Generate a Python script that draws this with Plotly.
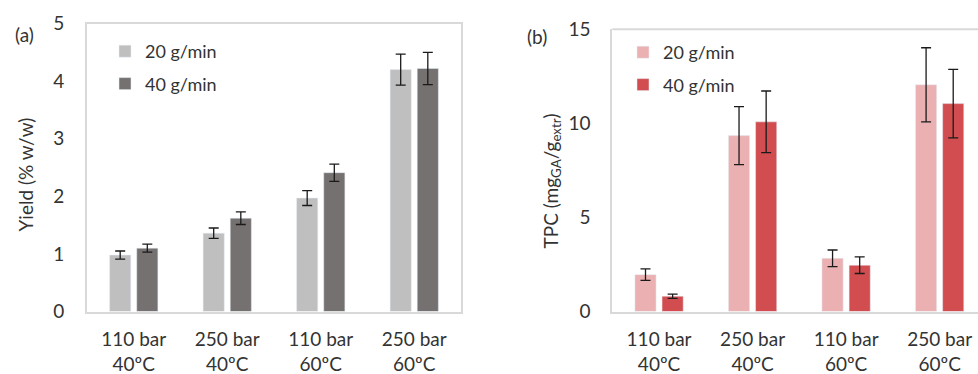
import plotly.graph_objects as go

categories = ["110 bar<br>40ºC", "250 bar<br>40ºC", "110 bar<br>60ºC", "250 bar<br>60ºC"]
series_names = ["20 g/min", "40 g/min"]

yield_20 = [0.98, 1.36, 1.97, 4.20]
yield_20_err = [0.07, 0.09, 0.13, 0.27]
yield_40 = [1.10, 1.62, 2.41, 4.22]
yield_40_err = [0.07, 0.11, 0.15, 0.28]

tpc_20 = [1.96, 9.35, 2.83, 12.05]
tpc_20_err = [0.31, 1.54, 0.44, 1.97]
tpc_40 = [0.81, 10.08, 2.46, 11.05]
tpc_40_err = [0.11, 1.64, 0.44, 1.82]

W, H = 978, 374
FONT = "Lato"
TXT = "#333333"
FRAME = "#D9D9D9"
FS = 19

def px(x):
    return x / W

def py(y):
    return 1 - y / H

err_style = dict(type="data", color="#1a1a1a", thickness=1.3, width=5, visible=True)

fig = go.Figure()
fig.add_trace(go.Bar(x=categories, y=yield_20, name=series_names[0], marker_color="#BFBFBF",
                     error_y=dict(array=yield_20_err, **err_style), xaxis="x", yaxis="y",
                     legend="legend", legendgroup="a1"))
fig.add_trace(go.Bar(x=categories, y=yield_40, name=series_names[1], marker_color="#767171",
                     error_y=dict(array=yield_40_err, **err_style), xaxis="x", yaxis="y",
                     legend="legend", legendgroup="a2"))
fig.add_trace(go.Bar(x=categories, y=tpc_20, name=series_names[0], marker_color="#EBB1B2",
                     error_y=dict(array=tpc_20_err, **err_style), xaxis="x2", yaxis="y2",
                     legend="legend2", legendgroup="b1"))
fig.add_trace(go.Bar(x=categories, y=tpc_40, name=series_names[1], marker_color="#D14D4F",
                     error_y=dict(array=tpc_40_err, **err_style), xaxis="x2", yaxis="y2",
                     legend="legend2", legendgroup="b2"))

tickfont = dict(family=FONT, size=FS, color=TXT)
legfont = dict(family=FONT, size=18, color=TXT)

fig.update_layout(
    width=W, height=H,
    margin=dict(l=0, r=0, t=0, b=0, pad=0, autoexpand=False),
    paper_bgcolor="white", plot_bgcolor="white",
    barmode="group", bargap=0.42, bargroupgap=0.22,
    font=dict(family=FONT, size=FS, color=TXT),
    xaxis=dict(domain=[px(87), px(461)], range=[-0.5, 3.5], type="category",
               showline=True, linecolor=FRAME, linewidth=2, mirror=True, automargin=False,
               ticks="", tickfont=tickfont, ticklabelstandoff=10, showgrid=False),
    yaxis=dict(domain=[py(311.5), py(23.5)], range=[0, 5], dtick=1, automargin=False,
               showline=True, linecolor=FRAME, linewidth=2, mirror=True,
               ticks="", tickfont=tickfont, ticklabelstandoff=17, showgrid=False,
               zeroline=False),
    xaxis2=dict(domain=[px(612.3), 1.0], range=[-0.5, 3.41], type="category",
                anchor="y2", showline=True, linecolor=FRAME, linewidth=2, automargin=False,
                ticks="", tickfont=tickfont, ticklabelstandoff=10, showgrid=False),
    yaxis2=dict(domain=[py(311.5), py(29.3)], range=[0, 15], dtick=5, anchor="x2",
                showline=True, linecolor=FRAME, linewidth=2, automargin=False,
                ticks="", tickfont=tickfont, ticklabelstandoff=16, showgrid=False,
                zeroline=False),
    legend=dict(x=px(105), y=py(33), xanchor="left", yanchor="top", font=legfont,
                bgcolor="rgba(0,0,0,0)", tracegroupgap=6, itemwidth=30),
    legend2=dict(x=px(623), y=py(34), xanchor="left", yanchor="top", font=legfont,
                 bgcolor="rgba(0,0,0,0)", tracegroupgap=6, itemwidth=30),
    showlegend=True,
)

fig.add_shape(type="line", xref="x2 domain", yref="y2 domain", x0=0, x1=1, y0=1, y1=1,
              line=dict(color=FRAME, width=2))

ann_font = dict(family=FONT, size=FS, color=TXT)
fig.add_annotation(text="(a)", x=px(24), y=py(34), xref="paper", yref="paper",
                   xanchor="center", yanchor="middle", showarrow=False, font=ann_font)
fig.add_annotation(text="(b)", x=px(537), y=py(37), xref="paper", yref="paper",
                   xanchor="center", yanchor="middle", showarrow=False, font=ann_font)
fig.add_annotation(text="Yield (% w/w)", x=px(25), y=py(174.5), xref="paper", yref="paper",
                   xanchor="center", yanchor="middle", textangle=-90, showarrow=False,
                   font=ann_font)
fig.add_annotation(text="TPC (mg<sub>GA</sub>/g<sub>extr</sub>)", x=px(551), y=py(181.5),
                   xref="paper", yref="paper", xanchor="center", yanchor="middle",
                   textangle=-90, showarrow=False, font=ann_font)

fig.write_html("out.html", config={"displayModeBar": False},
               post_script="document.body.style.margin='0';")
